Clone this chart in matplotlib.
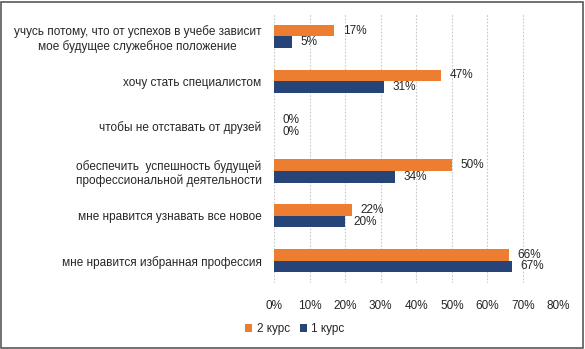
import matplotlib.pyplot as plt
import numpy as np
from matplotlib.patches import Rectangle

plt.rcParams['font.family'] = ['Liberation Sans', 'DejaVu Sans']

categories = [
    'учусь потому, что от успехов в учебе зависит\nмое будущее служебное положение',
    'хочу стать специалистом',
    'чтобы не отставать от друзей',
    'обеспечить  успешность будущей\nпрофессиональной деятельности',
    'мне нравится узнавать все новое',
    'мне нравится избранная профессия',
]
kurs2 = [17, 47, 0, 50, 22, 66]
kurs1 = [5, 31, 0, 34, 20, 67]

orange = '#ED7D31'
blue = '#264478'
txt = '#262626'

W, H = 585, 349
fig = plt.figure(figsize=(W / 100, H / 100), dpi=100)
ax = fig.add_axes([274 / W, 1 - 283 / H, (558.5 - 274) / W, (283 - 14) / H])

y = np.arange(len(categories))
h = 0.26
b2 = ax.barh(y - h / 2, kurs2, height=h, color=orange, label='2 курс')
b1 = ax.barh(y + h / 2, kurs1, height=h, color=blue, label='1 курс')

for bars, vals in ((b2, kurs2), (b1, kurs1)):
    for bar, v in zip(bars, vals):
        ax.annotate('{}%'.format(v), (v, bar.get_y() + bar.get_height() / 2),
                    xytext=(6, 0), textcoords='offset points',
                    ha='left', va='center', fontsize=8.5, color=txt)

ax.set_xlim(0, 80)
ax.set_ylim(len(categories) - 0.5, -0.5)
ax.set_xticks(np.arange(0, 81, 10))
ax.set_xticklabels(['{}%'.format(t) for t in range(0, 81, 10)])
ax.set_yticks(y)
ax.set_yticklabels(categories, ha='right', multialignment='center')
ax.tick_params(axis='both', length=0, labelsize=8.5, colors=txt)
ax.tick_params(axis='y', pad=9)
ax.tick_params(axis='x', pad=12)
ax.grid(axis='x', ls=(0, (1.5, 1.5)), color='#c8c8c8', lw=0.8)
ax.set_axisbelow(True)
for s in ax.spines.values():
    s.set_visible(False)

handles = [b2, b1]
fig.legend(handles, ['2 курс', '1 курс'], loc='center',
           bbox_to_anchor=(295 / W, 1 - 329 / H), ncol=2, frameon=False,
           fontsize=8.5, handlelength=0.6, handleheight=0.6,
           handletextpad=0.4, columnspacing=0.8, labelcolor=txt)

fig.patches.append(Rectangle((0.5 / W, 1.5 / H), (W - 3) / W, (H - 3) / H,
                             transform=fig.transFigure, fill=False,
                             ec='#595959', lw=1.2))

fig.savefig('out.png', dpi=100)
